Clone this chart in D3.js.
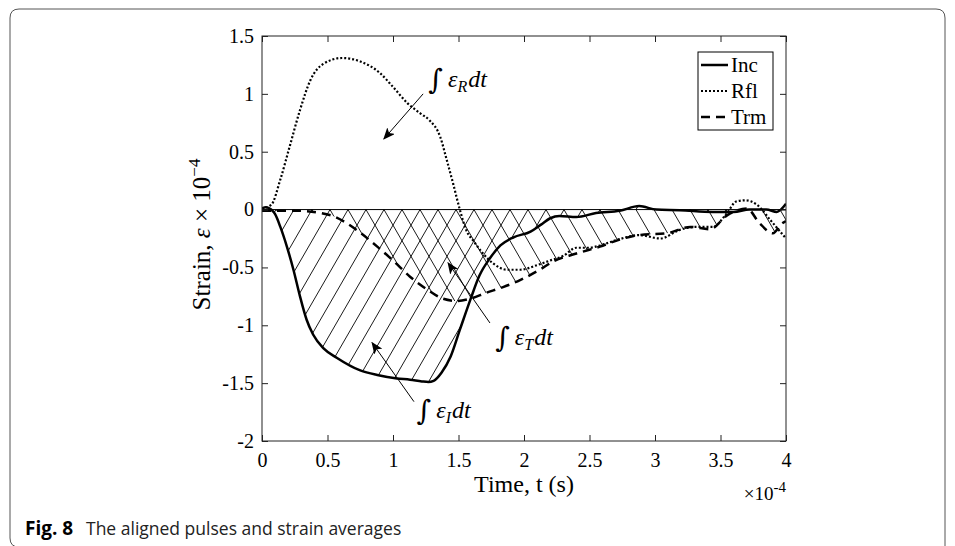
<!DOCTYPE html>
<html>
<head>
<meta charset="utf-8">
<script src="https://cdn.jsdelivr.net/npm/d3@7"></script>
<style>
  body { margin: 0; background: #fff; }
  svg { display: block; }
</style>
</head>
<body>
<div id="chart"></div>
<script>
// time in units of 1e-4 s, strain in units of 1e-4
const tInc = [0, 0.03, 0.07, 0.1, 0.14, 0.19, 0.24, 0.29, 0.34, 0.39, 0.47, 0.57, 0.75, 0.88, 1.03, 1.13, 1.22, 1.27, 1.31, 1.37, 1.44, 1.51, 1.59, 1.66, 1.74, 1.82, 1.92, 2.05, 2.13, 2.2, 2.27, 2.4, 2.55, 2.73, 2.88, 3.01, 3.19, 3.44, 3.6, 3.72, 3.85, 3.93, 4.0];
const vInc = [0.01, 0.02, 0.0, -0.04, -0.15, -0.32, -0.52, -0.75, -0.95, -1.08, -1.2, -1.28, -1.39, -1.43, -1.46, -1.47, -1.485, -1.49, -1.48, -1.41, -1.27, -1.04, -0.78, -0.57, -0.42, -0.31, -0.24, -0.19, -0.13, -0.075, -0.055, -0.065, -0.03, -0.01, 0.03, 0.0, -0.005, -0.02, -0.02, 0.0, 0.0, -0.02, 0.05];

const tRfl = [0, 0.07, 0.14, 0.21, 0.29, 0.37, 0.47, 0.61, 0.75, 0.9, 1.0, 1.11, 1.21, 1.28, 1.36, 1.41, 1.46, 1.51, 1.56, 1.62, 1.68, 1.77, 1.87, 1.97, 2.1, 2.2, 2.3, 2.4, 2.5, 2.58, 2.73, 2.88, 3.04, 3.19, 3.31, 3.44, 3.55, 3.62, 3.69, 3.78, 3.88, 4.0];
const vRfl = [0.01, 0.04, 0.26, 0.54, 0.86, 1.12, 1.26, 1.31, 1.28, 1.18, 1.06, 0.92, 0.83, 0.77, 0.63, 0.43, 0.22, 0.0, -0.18, -0.28, -0.37, -0.47, -0.52, -0.52, -0.48, -0.44, -0.4, -0.33, -0.33, -0.31, -0.255, -0.22, -0.25, -0.175, -0.15, -0.15, -0.03, 0.07, 0.08, 0.04, -0.09, -0.25];

const tTrm = [0, 0.25, 0.45, 0.55, 0.65, 0.75, 0.88, 1.0, 1.13, 1.26, 1.38, 1.49, 1.59, 1.71, 1.84, 1.97, 2.12, 2.22, 2.4, 2.58, 2.73, 2.88, 3.09, 3.27, 3.42, 3.55, 3.7, 3.8, 3.9, 3.97, 4.0];
const vTrm = [-0.01, -0.01, -0.03, -0.06, -0.12, -0.2, -0.32, -0.44, -0.58, -0.69, -0.77, -0.79, -0.77, -0.72, -0.67, -0.61, -0.52, -0.45, -0.38, -0.32, -0.26, -0.22, -0.205, -0.15, -0.17, -0.05, 0.01, -0.12, -0.205, -0.12, -0.1];

const xTicks = [0, 0.5, 1, 1.5, 2, 2.5, 3, 3.5, 4];
const xTickLabels = ["0", "0.5", "1", "1.5", "2", "2.5", "3", "3.5", "4"];
const yTicks = [-2, -1.5, -1, -0.5, 0, 0.5, 1, 1.5];
const yTickLabels = ["-2", "-1.5", "-1", "-0.5", "0", "0.5", "1", "1.5"];

const legendNames = ["Inc", "Rfl", "Trm"];

// annotation anchors in data units: text position, arrow tail, arrow head
const annoSub = ["R", "T", "I"];
const annoText = [[1.27, 1.06], [1.78, -1.17], [1.18, -1.80]];
const annoFrom = [[1.23, 1.0], [1.74, -0.98], [1.16, -1.66]];
const annoTo = [[0.93, 0.61], [1.42, -0.46], [0.84, -1.15]];

const W = 955, H = 546;
const margin = { top: 36, right: 169, bottom: 105, left: 262 };
const width = W - margin.left - margin.right;
const height = H - margin.top - margin.bottom;
const serif = '"Liberation Serif", "Times New Roman", serif';

const svg = d3.select("#chart").append("svg")
    .attr("width", W)
    .attr("height", H);

svg.append("rect").attr("width", W).attr("height", H).attr("fill", "#fff");

// outer figure frame
svg.append("path")
    .attr("d", `M945,560 V18 Q945,9 936,9 H19 Q10,9 10,18 V538 Q10,547 19,547 H945`)
    .attr("fill", "none")
    .attr("stroke", "#555")
    .attr("stroke-width", 1);

const g = svg.append("g").attr("transform", `translate(${margin.left},${margin.top})`);

const x = d3.scaleLinear().domain([0, 4]).range([0, width]);
const y = d3.scaleLinear().domain([-2, 1.5]).range([height, 0]);

const toPts = (ts, vs) => ts.map((t, i) => ({ t: t, v: vs[i] }));
const incData = toPts(tInc, vInc);
const rflData = toPts(tRfl, vRfl);
const trmData = toPts(tTrm, vTrm);

const line = d3.line().x(d => x(d.t)).y(d => y(d.v)).curve(d3.curveMonotoneX);
const area = d3.area().x(d => x(d.t)).y0(y(0)).y1(d => y(d.v)).curve(d3.curveMonotoneX);

// hatch clip regions
const defs = svg.append("defs");
defs.append("clipPath").attr("id", "clipInc").append("path").attr("d", area(incData));
defs.append("clipPath").attr("id", "clipTrm").append("path").attr("d", area(trmData));
defs.append("clipPath").attr("id", "plotClip").append("rect").attr("width", width).attr("height", height);

defs.append("marker")
    .attr("id", "arrowHead")
    .attr("viewBox", "0 0 12 10")
    .attr("refX", 11).attr("refY", 5)
    .attr("markerWidth", 12).attr("markerHeight", 10)
    .attr("markerUnits", "userSpaceOnUse")
    .attr("orient", "auto")
    .append("path")
    .attr("d", "M0,0 L12,5 L0,10 L3,5 Z")
    .attr("fill", "#000");

const hatchStep = 18;
const slope = Math.tan(60 * Math.PI / 180);
const reach = height;
const starts = d3.range(-400, width + 400, hatchStep);

g.append("g").attr("clip-path", "url(#clipInc)")
    .selectAll("line").data(starts).enter().append("line")
    .attr("x1", d => d - reach / slope).attr("y1", y(0) + reach)
    .attr("x2", d => d + reach / slope).attr("y2", y(0) - reach)
    .attr("stroke", "#000").attr("stroke-width", 0.9);

g.append("g").attr("clip-path", "url(#clipTrm)")
    .selectAll("line").data(starts).enter().append("line")
    .attr("x1", d => d - reach / slope).attr("y1", y(0) - reach)
    .attr("x2", d => d + reach / slope).attr("y2", y(0) + reach)
    .attr("stroke", "#000").attr("stroke-width", 0.9);

// zero reference line
g.append("line")
    .attr("x1", x(0)).attr("x2", x(4))
    .attr("y1", y(0)).attr("y2", y(0))
    .attr("stroke", "#000").attr("stroke-width", 1);

const curves = g.append("g").attr("clip-path", "url(#plotClip)");

curves.append("path").attr("d", line(rflData))
    .attr("fill", "none").attr("stroke", "#000")
    .attr("stroke-width", 2.2).attr("stroke-dasharray", "2,2");

curves.append("path").attr("d", line(trmData))
    .attr("fill", "none").attr("stroke", "#000")
    .attr("stroke-width", 2.5).attr("stroke-dasharray", "9,6");

curves.append("path").attr("d", line(incData))
    .attr("fill", "none").attr("stroke", "#000")
    .attr("stroke-width", 2.5);

// axes (MATLAB box style, ticks pointing in)
const styleAxis = sel => {
    sel.select(".domain").remove();
    sel.selectAll(".tick line").attr("stroke", "#222");
    sel.selectAll(".tick text").attr("font-size", 20).attr("font-family", serif).attr("fill", "#000");
};

g.append("g").attr("transform", `translate(0,${height})`)
    .call(d3.axisBottom(x).tickValues(xTicks).tickFormat((d, i) => xTickLabels[i]).tickSizeInner(-6).tickSizeOuter(0).tickPadding(12))
    .call(styleAxis);
g.append("g")
    .call(d3.axisTop(x).tickValues(xTicks).tickFormat("").tickSizeInner(-6).tickSizeOuter(0))
    .call(styleAxis);
g.append("g")
    .call(d3.axisLeft(y).tickValues(yTicks).tickFormat((d, i) => yTickLabels[i]).tickSizeInner(-6).tickSizeOuter(0).tickPadding(8))
    .call(styleAxis);
g.append("g").attr("transform", `translate(${width},0)`)
    .call(d3.axisRight(y).tickValues(yTicks).tickFormat("").tickSizeInner(-6).tickSizeOuter(0))
    .call(styleAxis);

g.append("rect")
    .attr("width", width).attr("height", height)
    .attr("fill", "none").attr("stroke", "#222").attr("stroke-width", 1);

// axis labels
g.append("text")
    .attr("x", width / 2).attr("y", height + 51)
    .attr("text-anchor", "middle")
    .attr("font-family", serif).attr("font-size", 24)
    .text("Time, t (s)");

const xMul = g.append("text")
    .attr("x", width).attr("y", height + 59)
    .attr("text-anchor", "end")
    .attr("font-family", serif).attr("font-size", 19);
xMul.append("tspan").text("\u00d710");
xMul.append("tspan").attr("dy", -8).attr("font-size", 15).text("-4");

const yLab = g.append("text")
    .attr("transform", `translate(-52,${height / 2 - 4}) rotate(-90)`)
    .attr("text-anchor", "middle")
    .attr("font-family", serif).attr("font-size", 25);
yLab.append("tspan").text("Strain, ");
yLab.append("tspan").attr("font-style", "italic").text("\u03b5");
yLab.append("tspan").text(" \u00d7 10");
yLab.append("tspan").attr("dy", -10).attr("font-size", 17).text("\u22124");

// annotations
annoSub.forEach((s, i) => {
    g.append("line")
        .attr("x1", x(annoFrom[i][0])).attr("y1", y(annoFrom[i][1]))
        .attr("x2", x(annoTo[i][0])).attr("y2", y(annoTo[i][1]))
        .attr("stroke", "#000").attr("stroke-width", 1)
        .attr("marker-end", "url(#arrowHead)");
    const t = g.append("text")
        .attr("x", x(annoText[i][0])).attr("y", y(annoText[i][1]))
        .attr("font-family", serif).attr("font-size", 24);
    t.append("tspan").attr("font-size", 28).attr("font-family", '"DejaVu Serif", serif').attr("dy", 2).text("\u222b");
    t.append("tspan").attr("font-style", "italic").attr("dx", 5).attr("dy", -2).text("\u03b5");
    t.append("tspan").attr("font-style", "italic").attr("font-size", 16).attr("dy", 5).text(s);
    t.append("tspan").attr("font-style", "italic").attr("dx", 1).attr("dy", -5).text("dt");
});

// legend
const lg = g.append("g").attr("transform", `translate(${width - 88},16)`);
lg.append("rect")
    .attr("width", 75).attr("height", 78)
    .attr("fill", "#fff").attr("stroke", "#000").attr("stroke-width", 1);
const dashes = [null, "2,2", "9,6"];
const widths = [2.5, 2.2, 2.5];
legendNames.forEach((name, i) => {
    const yy = 13 + i * 26;
    lg.append("line")
        .attr("x1", 3).attr("x2", 30).attr("y1", yy).attr("y2", yy)
        .attr("stroke", "#000").attr("stroke-width", widths[i])
        .attr("stroke-dasharray", dashes[i]);
    lg.append("text")
        .attr("x", 33).attr("y", yy + 7)
        .attr("font-family", serif).attr("font-size", 21)
        .text(name);
});

// caption
const cap = svg.append("text")
    .attr("y", 535)
    .attr("font-family", '"Open Sans", "Noto Sans", sans-serif').attr("font-size", 17.5);
cap.append("tspan").attr("x", 25).attr("font-weight", "bold").attr("font-size", 19).text("Fig. 8");
cap.append("tspan").attr("x", 86).attr("fill", "#222").text("The aligned pulses and strain averages");
</script>
</body>
</html>
